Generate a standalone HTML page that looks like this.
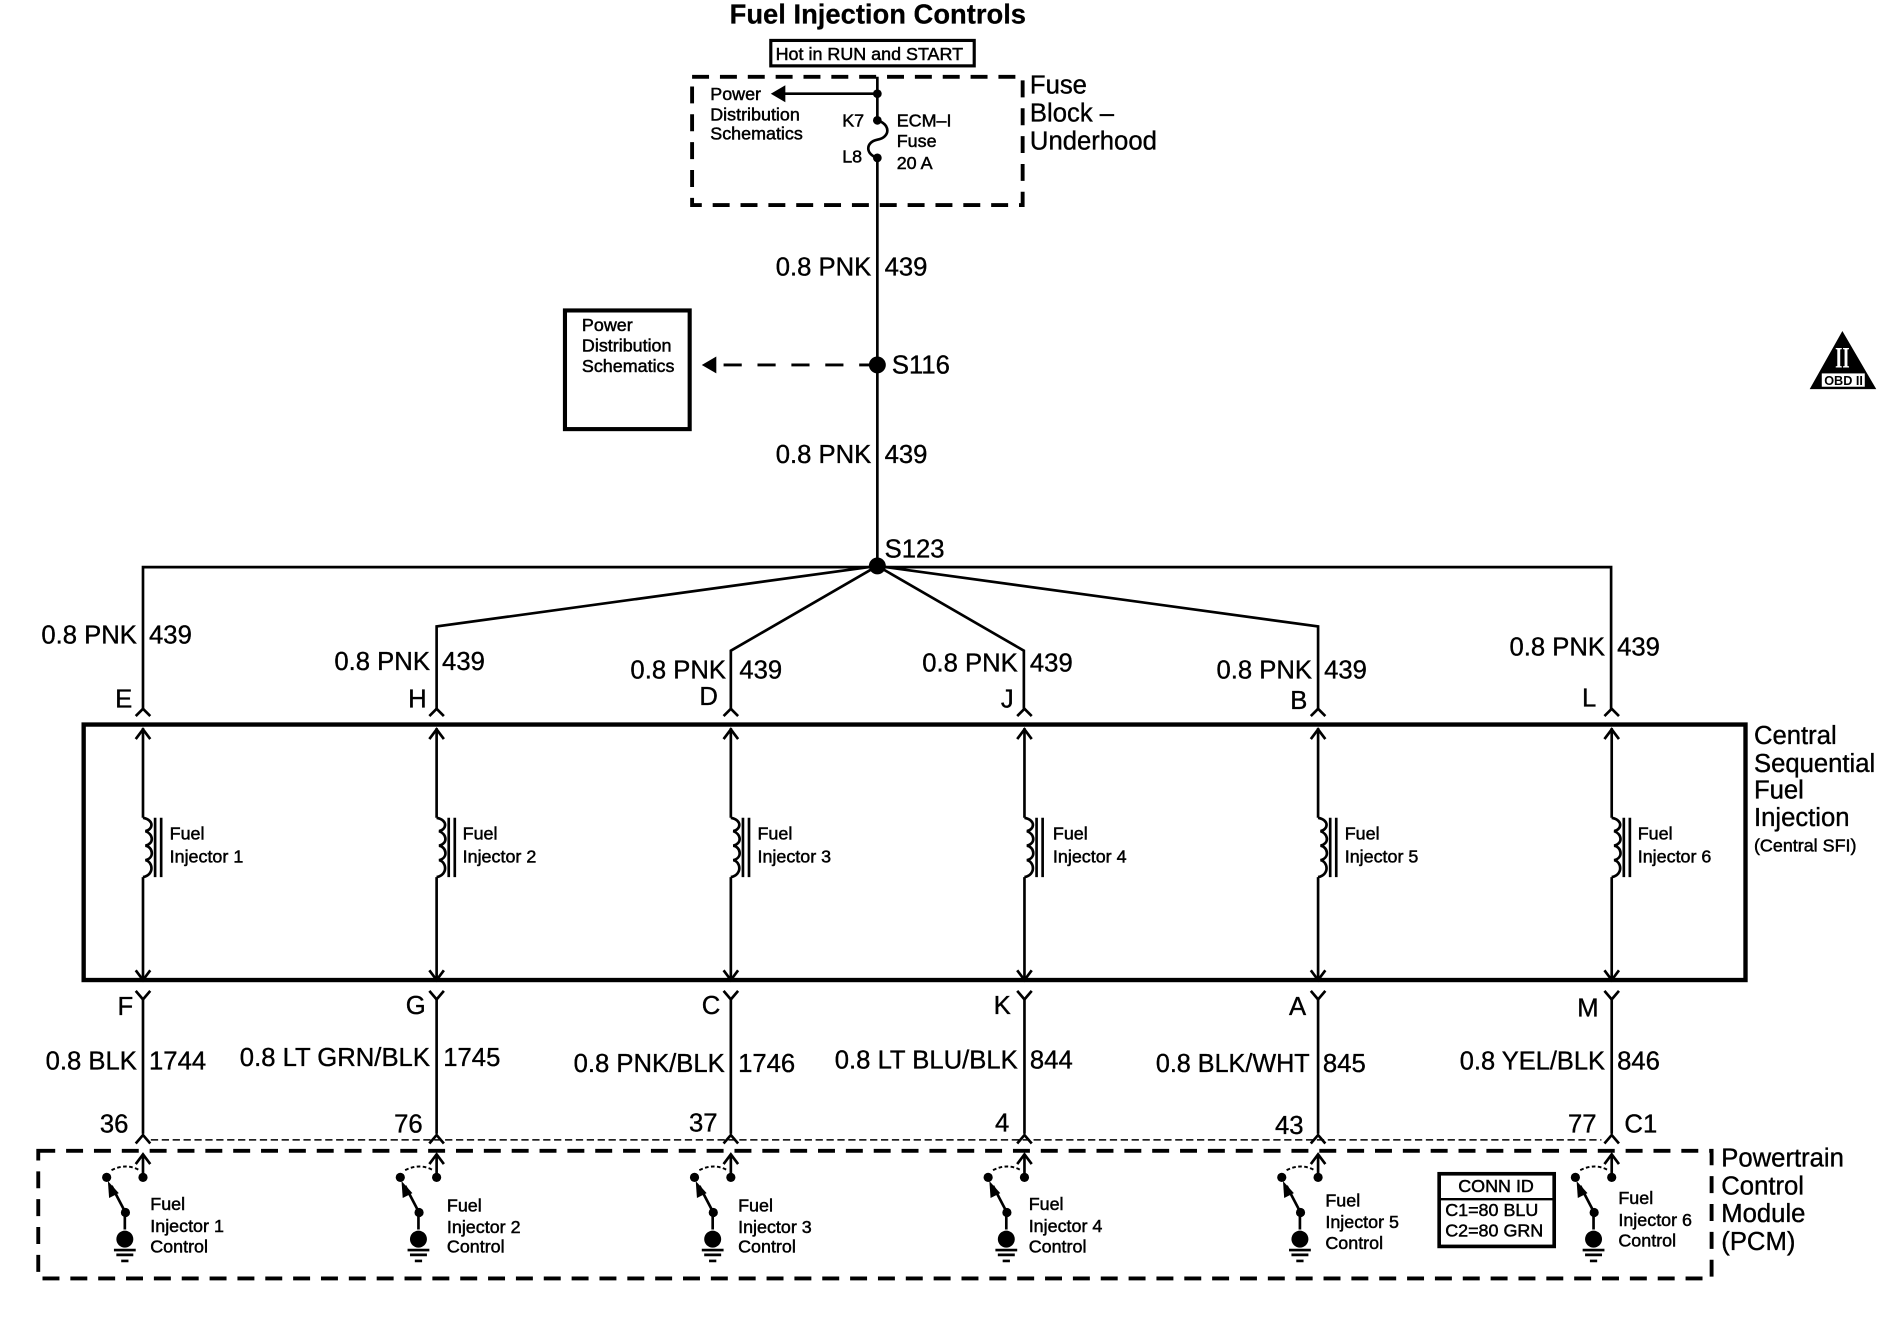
<!DOCTYPE html>
<html><head><meta charset="utf-8"><title>Fuel Injection Controls</title>
<style>
html,body{margin:0;padding:0;background:#fff}
svg{display:block}
text{font-family:"Liberation Sans",sans-serif;fill:#000}
.b{font-size:21.2px;stroke:#000;stroke-width:.3}
.s{font-size:14.8px;stroke:#000;stroke-width:.4}
.e{text-anchor:end}
.w{fill:none;stroke:#000;stroke-width:2.2}
.d{fill:none;stroke:#000;stroke-width:3.2;stroke-dasharray:14 9}
</style></head><body>
<svg xmlns="http://www.w3.org/2000/svg" width="1900" height="1344" viewBox="0 0 1569 1110">
<defs>
<g id="col">
<path class="w" d="M0 601V675M0 724V809"/>
<path class="w" d="M-6 591L0 585L6 591M-6 610L0 602L6 610M-6 801L0 809L6 801M-6 818L0 825L6 818"/>
<path class="w" d="M0 675C10 677 8 685 2 686C8 688 10 696 2 698C8 699 10 708 2 710C8 711 10 722 0 724"/>
<path class="w" d="M10 675V724M15 675V724"/>
<path class="w" d="M0 825V936M-6 944L0 937L6 944"/>
<path class="w" d="M0 972V953M-6 961L0 953L6 961"/>
</g>
<g id="sw">
<circle cx="0" cy="972" r="3.8"/><circle cx="-30" cy="972" r="3.8"/><circle cx="-14.5" cy="1001" r="3.8"/>
<path d="M-26 966Q-14 960 -3 966" fill="none" stroke="#000" stroke-width="1.6" stroke-dasharray="3 2"/>
<path class="w" d="M-14.5 1001L-26 979M-15 1001V1015"/>
<path d="M-29 975L-20 985L-28 989Z"/>
<circle cx="-15" cy="1023" r="7"/>
<path class="w" d="M-24 1032H-6M-22 1036H-8M-18 1041H-12" stroke-width="1.8"/>
</g>
</defs>
<g transform="translate(.5 .4)">
<text x="602" y="19" font-size="22.6" font-weight="bold" stroke="#000" stroke-width=".2">Fuel Injection Controls</text>
<rect x="636" y="33" width="168" height="21" fill="none" stroke="#000" stroke-width="2.6"/>
<text class="s" x="640" y="49">Hot in RUN and START</text>

<rect class="d" x="571" y="63" width="273" height="106"/>
<path class="w" d="M724 63V99M724 130V467"/>
<path class="w" d="M724 99C735 102 735 113 724 115C714 117 714 127 724 130"/>
<circle cx="724" cy="77" r="3.6"/><circle cx="724" cy="99" r="3.6"/><circle cx="724" cy="130" r="3.6"/>
<path class="w" d="M724 77H645"/><path d="M636 77L648 70V84Z"/>
<text class="s" x="586" y="82">Power</text>
<text class="s" x="586" y="99">Distribution</text>
<text class="s" x="586" y="115">Schematics</text>
<text class="s" x="695" y="104">K7</text>
<text class="s" x="695" y="134">L8</text>
<text class="s" x="740" y="104">ECM–I</text>
<text class="s" x="740" y="121">Fuse</text>
<text class="s" x="740" y="139">20 A</text>
<text class="b" x="850" y="77">Fuse</text>
<text class="b" x="850" y="100">Block –</text>
<text class="b" x="850" y="123">Underhood</text>

<text class="b e" x="719" y="227">0.8 PNK</text><text class="b" x="730" y="227">439</text>
<text class="b e" x="719" y="382">0.8 PNK</text><text class="b" x="730" y="382">439</text>

<rect x="466" y="256" width="103" height="98" fill="none" stroke="#000" stroke-width="3.4"/>
<text class="s" x="480" y="273">Power</text>
<text class="s" x="480" y="290">Distribution</text>
<text class="s" x="480" y="307">Schematics</text>
<circle cx="724" cy="301" r="7"/>
<path d="M724 301H590" fill="none" stroke="#000" stroke-width="2.4" stroke-dasharray="15 13"/>
<path d="M579 301L591 294V308Z"/>
<text class="b" x="736" y="308">S116</text>
<text class="b" x="730" y="460">S123</text>

<circle cx="724" cy="467" r="7"/>
<path class="w" d="M117.500 585V468H1330V585"/>
<path class="w" d="M724 467L360 517V585M724 467L603 537V585M724 467L845 537V585M724 467L1088 517V585"/>

<rect x="68.500" y="598" width="1372.500" height="211" fill="none" stroke="#000" stroke-width="3.6"/>

<use href="#col" x="117.500"/><use href="#col" x="360"/><use href="#col" x="603"/><use href="#col" x="845.500"/><use href="#col" x="1088"/><use href="#col" x="1330.500"/>

<text class="s" x="139.500" y="693">Fuel</text><text class="s" x="139.500" y="712">Injector 1</text>
<text class="s" x="381.500" y="693">Fuel</text><text class="s" x="381.500" y="712">Injector 2</text>
<text class="s" x="625" y="693">Fuel</text><text class="s" x="625" y="712">Injector 3</text>
<text class="s" x="869" y="693">Fuel</text><text class="s" x="869" y="712">Injector 4</text>
<text class="s" x="1110" y="693">Fuel</text><text class="s" x="1110" y="712">Injector 5</text>
<text class="s" x="1352" y="693">Fuel</text><text class="s" x="1352" y="712">Injector 6</text>

<text class="b e" x="112.500" y="531">0.8 PNK</text><text class="b" x="122.500" y="531">439</text>
<text class="b e" x="354.500" y="553">0.8 PNK</text><text class="b" x="364.500" y="553">439</text>
<text class="b e" x="599" y="560">0.8 PNK</text><text class="b" x="610" y="560">439</text>
<text class="b e" x="840" y="554">0.8 PNK</text><text class="b" x="850" y="554">439</text>
<text class="b e" x="1083" y="560">0.8 PNK</text><text class="b" x="1093" y="560">439</text>
<text class="b e" x="1325" y="541">0.8 PNK</text><text class="b" x="1335" y="541">439</text>

<text class="b" x="94.500" y="584">E</text>
<text class="b" x="336.500" y="584">H</text>
<text class="b" x="577" y="582">D</text>
<text class="b" x="826" y="584">J</text>
<text class="b" x="1065" y="585">B</text>
<text class="b" x="1306" y="583">L</text>

<text class="b" x="96.500" y="838">F</text>
<text class="b" x="334.500" y="837">G</text>
<text class="b" x="579" y="837">C</text>
<text class="b" x="820" y="837">K</text>
<text class="b" x="1064" y="838">A</text>
<text class="b" x="1302" y="839">M</text>

<text class="b e" x="112.500" y="883">0.8 BLK</text><text class="b" x="122.500" y="883">1744</text>
<text class="b e" x="354.500" y="880">0.8 LT GRN/BLK</text><text class="b" x="365.500" y="880">1745</text>
<text class="b e" x="598" y="885">0.8 PNK/BLK</text><text class="b" x="609" y="885">1746</text>
<text class="b e" x="840" y="882">0.8 LT BLU/BLK</text><text class="b" x="850" y="882">844</text>
<text class="b e" x="1081" y="885" textLength="127" lengthAdjust="spacingAndGlyphs">0.8 BLK/WHT</text><text class="b" x="1092" y="885">845</text>
<text class="b e" x="1325" y="883" textLength="120" lengthAdjust="spacingAndGlyphs">0.8 YEL/BLK</text><text class="b" x="1335" y="883">846</text>

<text class="b e" x="105.500" y="935">36</text>
<text class="b e" x="348.500" y="935">76</text>
<text class="b e" x="592" y="934">37</text>
<text class="b e" x="833" y="934">4</text>
<text class="b e" x="1076" y="936">43</text>
<text class="b e" x="1318" y="935">77</text>
<text class="b" x="1341" y="935">C1</text>

<path d="M124 941H1322" fill="none" stroke="#000" stroke-width="1.3" stroke-dasharray="6 3"/>
<rect class="d" x="31" y="950" width="1382" height="105.500"/>

<use href="#sw" x="117.500"/><use href="#sw" x="360"/><use href="#sw" x="603"/><use href="#sw" x="845.500"/><use href="#sw" x="1088"/><use href="#sw" x="1330.500"/>

<text class="s" x="123.500" y="999">Fuel</text><text class="s" x="123.500" y="1017">Injector 1</text><text class="s" x="123.500" y="1034">Control</text>
<text class="s" x="368.500" y="1000">Fuel</text><text class="s" x="368.500" y="1018">Injector 2</text><text class="s" x="368.500" y="1034">Control</text>
<text class="s" x="609" y="1000">Fuel</text><text class="s" x="609" y="1018">Injector 3</text><text class="s" x="609" y="1034">Control</text>
<text class="s" x="849" y="999">Fuel</text><text class="s" x="849" y="1017">Injector 4</text><text class="s" x="849" y="1034">Control</text>
<text class="s" x="1094" y="996">Fuel</text><text class="s" x="1094" y="1014">Injector 5</text><text class="s" x="1094" y="1031">Control</text>
<text class="s" x="1336" y="994">Fuel</text><text class="s" x="1336" y="1012">Injector 6</text><text class="s" x="1336" y="1029">Control</text>

<rect x="1188" y="969" width="95" height="60" fill="none" stroke="#000" stroke-width="3"/>
<path d="M1188 990H1283" stroke="#000" stroke-width="2"/>
<text class="s" x="1235" y="984" text-anchor="middle">CONN ID</text>
<text class="s" x="1193" y="1004">C1=80 BLU</text>
<text class="s" x="1193" y="1021">C2=80 GRN</text>

<text class="b" x="1448" y="614">Central</text>
<text class="b" x="1448" y="637">Sequential</text>
<text class="b" x="1448" y="659">Fuel</text>
<text class="b" x="1448" y="682">Injection</text>
<text class="s" x="1448" y="703">(Central SFI)</text>

<text class="b" x="1421" y="963">Powertrain</text>
<text class="b" x="1421" y="986">Control</text>
<text class="b" x="1421" y="1009">Module</text>
<text class="b" x="1421" y="1032">(PCM)</text>

<path d="M1521 273L1549 321H1494Z"/>
<rect x="1504" y="308" width="35.500" height="11" fill="#fff"/>
<text x="1522" y="317.500" text-anchor="middle" font-size="11" font-weight="bold" textLength="32" lengthAdjust="spacingAndGlyphs">OBD II</text>
<text x="1515" y="303" font-size="24" font-weight="bold" textLength="12" lengthAdjust="spacingAndGlyphs" style="font-family:'Liberation Serif',serif;fill:#fff">II</text>
</g>
</svg>
</body></html>
